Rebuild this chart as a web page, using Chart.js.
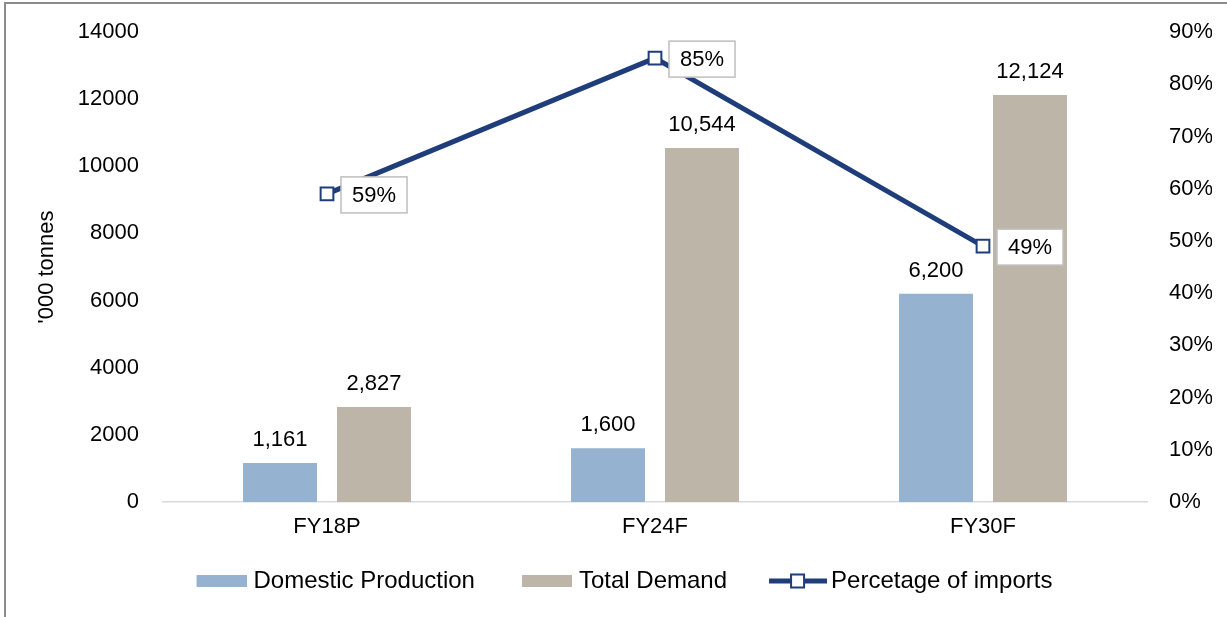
<!DOCTYPE html>
<html>
<head>
<meta charset="utf-8">
<script src="https://cdn.jsdelivr.net/npm/chart.js@4.4.1/dist/chart.umd.min.js"></script>
<style>
  html, body { margin: 0; padding: 0; background: #fff; }
</style>
</head>
<body>
<canvas id="chart" width="1227" height="617"></canvas>
<script>
// data
const categories = ['FY18P', 'FY24F', 'FY30F'];
const domesticProduction = [1161, 1600, 6200];
const totalDemand = [2827, 10544, 12124];
const importShare = [59, 85, 49];
const leftTicks = [0, 2000, 4000, 6000, 8000, 10000, 12000, 14000];
const rightTicks = [0, 10, 20, 30, 40, 50, 60, 70, 80, 90];

const FONT = '"Liberation Sans", Arial, sans-serif';
const BLUE = '#95B3D0';
const BEIGE = '#BDB5A8';
const NAVY = '#1F3D7A';

Chart.defaults.font.family = FONT;
Chart.defaults.font.size = 22;
Chart.defaults.color = '#000';

// legend swatches: drawn at the right end of a wider transparent image,
// so the swatch sits close to its text and far from the previous item
const SLOT = 82;
function swatch(color) {
  const c = document.createElement('canvas');
  c.width = SLOT + 10; c.height = 12;
  const g = c.getContext('2d');
  g.fillStyle = color;
  g.fillRect(c.width - 50, 0, 50, 12);
  return c;
}
function lineSwatch() {
  const c = document.createElement('canvas');
  c.width = SLOT + 16; c.height = 16;
  const g = c.getContext('2d');
  const x0 = c.width - 58;
  g.strokeStyle = NAVY;
  g.lineWidth = 5;
  g.beginPath();
  g.moveTo(x0, 8);
  g.lineTo(c.width, 8);
  g.stroke();
  g.fillStyle = '#fff';
  g.fillRect(x0 + 22, 1.5, 13, 13);
  g.lineWidth = 2;
  g.strokeRect(x0 + 22, 1.5, 13, 13);
  return c;
}
const legendImages = [swatch(BLUE), swatch(BEIGE), lineSwatch()];

// grey frame on the left and top edges
const frame = {
  id: 'frame',
  beforeDraw(chart) {
    const ctx = chart.ctx;
    ctx.save();
    ctx.strokeStyle = '#8c8c8c';
    ctx.lineWidth = 2;
    ctx.beginPath();
    ctx.moveTo(5, chart.height);
    ctx.lineTo(5, 3);
    ctx.lineTo(chart.width, 3);
    ctx.stroke();
    ctx.restore();
  }
};

// value labels above bars, boxed labels next to the line points
const valueLabels = {
  id: 'valueLabels',
  afterDatasetsDraw(chart) {
    const ctx = chart.ctx;
    ctx.save();
    ctx.font = '22px ' + FONT;
    chart.data.datasets.forEach((ds, i) => {
      const meta = chart.getDatasetMeta(i);
      meta.data.forEach((el, j) => {
        if (ds.type === 'bar') {
          ctx.fillStyle = '#000';
          ctx.textAlign = 'center';
          ctx.textBaseline = 'alphabetic';
          ctx.fillText(ds.data[j].toLocaleString('en-US'), el.x, el.y - 17);
        } else {
          const txt = ds.data[j] + '%';
          const w = ctx.measureText(txt).width + 22;
          const h = 36;
          const x0 = el.x + 14;
          const y0 = el.y + 1 - h / 2;
          ctx.fillStyle = '#fff';
          ctx.fillRect(x0, y0, w, h);
          ctx.strokeStyle = '#bfbfbf';
          ctx.lineWidth = 1.5;
          ctx.strokeRect(x0, y0, w, h);
          ctx.fillStyle = '#000';
          ctx.textAlign = 'center';
          ctx.textBaseline = 'middle';
          ctx.fillText(txt, x0 + w / 2, el.y + 2);
        }
      });
    });
    ctx.restore();
  }
};

// y axes: fixed widths, and no extra top/bottom room for the end labels
function fixY(width) {
  return s => {
    s.width = width;
    s.paddingTop = 0;
    s.paddingBottom = 0;
  };
}

const ctx = document.getElementById('chart').getContext('2d');
new Chart(ctx, {
  data: {
    labels: categories,
    datasets: [
      {
        type: 'bar',
        label: 'Domestic Production',
        data: domesticProduction,
        backgroundColor: BLUE,
        yAxisID: 'y',
        order: 1,
        barPercentage: 0.787,
        categoryPercentage: 0.573
      },
      {
        type: 'bar',
        label: 'Total Demand',
        data: totalDemand,
        backgroundColor: BEIGE,
        yAxisID: 'y',
        order: 1,
        barPercentage: 0.787,
        categoryPercentage: 0.573
      },
      {
        type: 'line',
        label: 'Percetage of imports',
        data: importShare,
        yAxisID: 'y1',
        order: 0,
        borderColor: NAVY,
        borderWidth: 5,
        tension: 0,
        pointStyle: 'rect',
        pointRadius: 9,
        pointBackgroundColor: '#fff',
        pointBorderColor: NAVY,
        pointBorderWidth: 2
      }
    ]
  },
  options: {
    responsive: false,
    animation: false,
    events: [],
    layout: { padding: { left: 0, top: 32, right: 15, bottom: 14 } },
    scales: {
      x: {
        grid: { display: false, drawTicks: false },
        border: { color: '#d9d9d9', width: 1.5 },
        ticks: { padding: 12 },
        afterFit(s) { s.height = 57; }
      },
      y: {
        position: 'left',
        min: leftTicks[0],
        max: leftTicks[leftTicks.length - 1],
        afterBuildTicks(s) { s.ticks = leftTicks.map(v => ({ value: v })); },
        ticks: { padding: 24, callback: v => String(v) },
        grid: { display: false, drawTicks: false },
        border: { display: false },
        title: { display: true, text: "'000 tonnes", padding: { top: 34, bottom: 0 } },
        afterFit: fixY(163)
      },
      y1: {
        position: 'right',
        min: rightTicks[0],
        max: rightTicks[rightTicks.length - 1],
        afterBuildTicks(s) { s.ticks = rightTicks.map(v => ({ value: v })); },
        ticks: { padding: 22, callback: v => v + '%' },
        grid: { display: false, drawTicks: false },
        border: { display: false },
        afterFit: fixY(65)
      }
    },
    plugins: {
      tooltip: { enabled: false },
      legend: {
        position: 'bottom',
        labels: {
          usePointStyle: true,
          pointStyleWidth: SLOT,
          boxHeight: 16,
          padding: 10,
          font: { size: 24 },
          color: '#000',
          sort: (a, b) => a.datasetIndex - b.datasetIndex,
          generateLabels(chart) {
            const items = Chart.defaults.plugins.legend.labels.generateLabels(chart);
            items.forEach(it => { it.pointStyle = legendImages[it.datasetIndex]; });
            return items;
          }
        }
      }
    }
  },
  plugins: [frame, valueLabels]
});
</script>
</body>
</html>
